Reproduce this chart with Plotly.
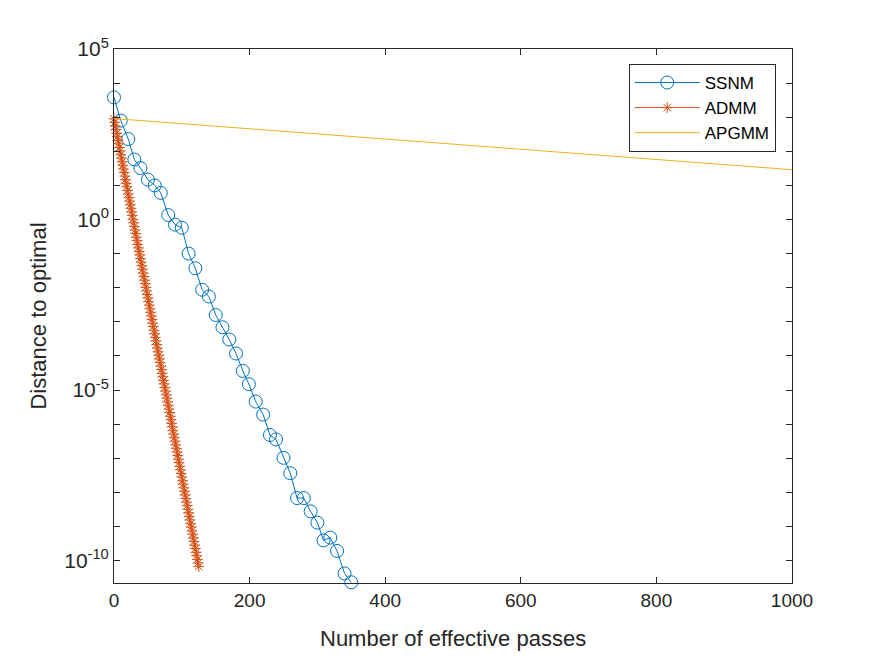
import plotly.graph_objects as go

# ---- data (log10 of distance to optimal) ----
ssnm_x = [0, 10, 21, 30, 39, 50, 60, 69, 80, 90, 100, 110, 120, 130, 140, 150, 160, 170,
          180, 190, 199, 209, 220, 230, 239, 250, 260, 270, 280, 290, 300, 309, 319, 329, 340, 350]
ssnm_log = [3.58, 2.90, 2.36, 1.76, 1.51, 1.17, 1.00, 0.78, 0.13, -0.15, -0.24, -1.00, -1.43,
            -2.06, -2.26, -2.80, -3.16, -3.52, -3.93, -4.44, -4.83, -5.34, -5.72, -6.32, -6.45,
            -6.99, -7.44, -8.17, -8.17, -8.56, -8.89, -9.41, -9.33, -9.72, -10.38, -10.64]

admm_x = [0, 1, 2, 3, 4, 5, 6, 7, 8, 9, 10, 11, 12, 13, 14, 15, 16, 17, 18, 19, 20,
          21, 22, 23, 24, 25, 26, 27, 28, 29, 30, 31, 32, 33, 34, 35, 36, 37, 38, 39, 40,
          41, 42, 43, 44, 45, 46, 47, 48, 49, 50, 51, 52, 53, 54, 55, 56, 57, 58, 59, 60,
          61, 62, 63, 64, 65, 66, 67, 68, 69, 70, 71, 72, 73, 74, 75, 76, 77, 78, 79, 80,
          81, 82, 83, 84, 85, 86, 87, 88, 89, 90, 91, 92, 93, 94, 95, 96, 97, 98, 99, 100,
          101, 102, 103, 104, 105, 106, 107, 108, 109, 110, 111, 112, 113, 114, 115, 116,
          117, 118, 119, 120, 121, 122, 123, 124, 125]
admm_log = [2.95, 2.85, 2.74, 2.64, 2.53, 2.43, 2.32, 2.22, 2.11, 2.01, 1.90,
            1.80, 1.69, 1.59, 1.48, 1.38, 1.27, 1.17, 1.06, 0.96, 0.85,
            0.75, 0.64, 0.54, 0.43, 0.33, 0.22, 0.12, 0.01, -0.10, -0.20,
            -0.31, -0.41, -0.52, -0.62, -0.73, -0.83, -0.94, -1.04, -1.15, -1.25,
            -1.36, -1.46, -1.57, -1.67, -1.78, -1.88, -1.99, -2.09, -2.20, -2.30,
            -2.41, -2.51, -2.62, -2.72, -2.83, -2.93, -3.04, -3.14, -3.25, -3.35,
            -3.46, -3.56, -3.67, -3.77, -3.88, -3.98, -4.09, -4.19, -4.30, -4.40,
            -4.51, -4.61, -4.72, -4.82, -4.93, -5.03, -5.14, -5.24, -5.35, -5.45,
            -5.56, -5.66, -5.77, -5.87, -5.98, -6.08, -6.19, -6.29, -6.40, -6.50,
            -6.61, -6.71, -6.82, -6.92, -7.03, -7.13, -7.24, -7.34, -7.45, -7.55,
            -7.66, -7.76, -7.87, -7.97, -8.08, -8.18, -8.29, -8.39, -8.50, -8.60,
            -8.71, -8.81, -8.92, -9.02, -9.13, -9.23, -9.34, -9.44, -9.55, -9.65,
            -9.76, -9.86, -9.97, -10.07, -10.18]

apgmm_x = [0, 200, 400, 600, 800, 1000]
apgmm_log = [2.96, 2.66, 2.36, 2.06, 1.76, 1.46]

x_ticks = [0, 200, 400, 600, 800, 1000]
y_decades = list(range(-10, 6))
y_labeled = {-10: "10<sup>-10</sup>", -5: "10<sup>-5</sup>", 0: "10<sup>0</sup>", 5: "10<sup>5</sup>"}

names = ["SSNM", "ADMM", "APGMM"]
colors = ["#0072BD", "#D95319", "#EDB120"]

FONT = "Liberation Sans, Arial, sans-serif"
INK = "#262626"

fig = go.Figure()
fig.add_trace(go.Scatter(
    x=ssnm_x, y=[10 ** v for v in ssnm_log], name=names[0], mode="lines+markers",
    line=dict(color=colors[0], width=1),
    marker=dict(symbol="circle-open", size=13, color=colors[0], line=dict(width=1, color=colors[0])),
    cliponaxis=False))
fig.add_trace(go.Scatter(
    x=admm_x, y=[10 ** v for v in admm_log], name=names[1], mode="lines+markers",
    line=dict(color=colors[1], width=1),
    marker=dict(symbol="asterisk-open", size=9, color=colors[1], line=dict(width=1, color=colors[1])),
    cliponaxis=False))
fig.add_trace(go.Scatter(
    x=apgmm_x, y=[10 ** v for v in apgmm_log], name=names[2], mode="lines",
    line=dict(color=colors[2], width=1)))

fig.update_layout(
    width=867, height=648,
    margin=dict(l=106, r=83, t=41, b=73),
    paper_bgcolor="white", plot_bgcolor="white",
    font=dict(family=FONT, color=INK, size=19),
    showlegend=True,
    legend=dict(x=0.976, y=0.972, xanchor="right", yanchor="top",
                bgcolor="white", bordercolor=INK, borderwidth=1,
                font=dict(size=17, color="black", family=FONT),
                itemwidth=65, tracegroupgap=0),
    xaxis=dict(range=[0, 1000], tickmode="array", tickvals=x_ticks,
               ticktext=[str(t) for t in x_ticks],
               ticks="inside", ticklen=6, tickcolor=INK, tickwidth=1,
               showline=True, linecolor=INK, linewidth=1, mirror="ticks",
               showgrid=False, zeroline=False,
               tickfont=dict(size=19, color=INK, family=FONT)),
    yaxis=dict(type="log", range=[-10.66, 5], tickmode="array",
               tickvals=[10 ** d for d in y_decades],
               ticktext=[y_labeled.get(d, "") for d in y_decades],
               ticks="inside", ticklen=6, tickcolor=INK, tickwidth=1,
               showline=True, linecolor=INK, linewidth=1, mirror="ticks",
               showgrid=False, zeroline=False,
               tickfont=dict(size=21, color=INK, family=FONT)),
    annotations=[
        dict(text="Number of effective passes", xref="paper", yref="paper",
             x=0.5, y=-0.1045, xanchor="center", yanchor="middle", showarrow=False,
             font=dict(size=22, color=INK, family=FONT)),
        dict(text="Distance to optimal", xref="paper", yref="paper",
             x=-0.1128, y=0.5, xanchor="center", yanchor="middle", showarrow=False,
             textangle=-90, font=dict(size=22, color=INK, family=FONT)),
    ],
)

fig.write_html("out.html")
